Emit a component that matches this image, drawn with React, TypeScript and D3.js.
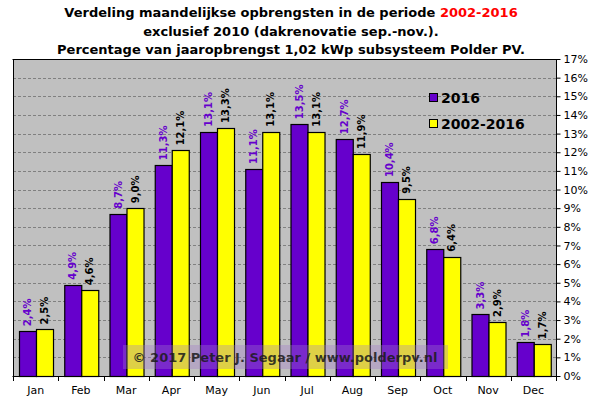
import { useRef, useEffect } from "react";
import * as d3 from "d3";

const months = ["Jan", "Feb", "Mar", "Apr", "May", "Jun", "Jul", "Aug", "Sep", "Oct", "Nov", "Dec"];
const series = ["2016", "2002-2016"];
const values2016 = [2.4, 4.9, 8.7, 11.3, 13.1, 11.1, 13.5, 12.7, 10.4, 6.8, 3.3, 1.8];
const valuesAll = [2.5, 4.6, 9.0, 12.1, 13.3, 13.1, 13.1, 11.9, 9.5, 6.4, 2.9, 1.7];
const yTicks = d3.range(0, 18);
const titleLines = [
  ["Verdeling maandelijkse opbrengsten in de periode ", "2002-2016"],
  ["exclusief 2010 (dakrenovatie sep.-nov.).", ""],
  ["Percentage van jaaropbrengst 1,02 kWp subsysteem Polder PV.", ""],
];

const colors = { "2016": "#6600CC", "2002-2016": "#FFFF00" };
const labelColors = { "2016": "#6600CC", "2002-2016": "#000000" };
const font = "Verdana, 'DejaVu Sans', sans-serif";

export default function App() {
  const svgRef = useRef(null);

  useEffect(() => {
    const W = 601, H = 399;
    const margin = { top: 59, right: 45, bottom: 23, left: 13 };
    const svg = d3.select(svgRef.current);
    svg.selectAll("*").remove();
    svg.attr("width", W).attr("height", H).style("font-family", font);

    svg.append("rect").attr("width", W).attr("height", H).attr("fill", "#fff");

    const x0 = d3.scaleBand().domain(months).range([margin.left, W - margin.right]).paddingInner(0);
    const x1 = d3.scaleBand().domain(series).range([0, x0.bandwidth()]).paddingInner(0).paddingOuter(0.33);
    const y = d3.scaleLinear().domain([0, 17]).range([H - margin.bottom, margin.top]);

    // title
    titleLines.forEach((ln, i) => {
      const t = svg.append("text")
        .attr("x", 291).attr("y", 17 + i * 18.5)
        .attr("text-anchor", "middle")
        .attr("font-size", 13).attr("font-weight", "bold").attr("fill", "#000");
      t.append("tspan").text(ln[0]);
      if (ln[1]) t.append("tspan").attr("fill", "#FF0000").text(ln[1]);
    });

    // plot area
    svg.append("rect")
      .attr("x", margin.left).attr("y", y(17))
      .attr("width", W - margin.right - margin.left).attr("height", y(0) - y(17))
      .attr("fill", "#C0C0C0");

    // grid
    svg.append("g").selectAll("line")
      .data(yTicks.filter((d) => d > 0 && d < 17))
      .join("line")
      .attr("x1", margin.left).attr("x2", W - margin.right)
      .attr("y1", (d) => Math.round(y(d)) + 0.5).attr("y2", (d) => Math.round(y(d)) + 0.5)
      .attr("stroke", "#808080").attr("stroke-dasharray", "3,2");

    // bars
    const data = months.map((m, i) => ({ m, vals: [values2016[i], valuesAll[i]] }));
    const groups = svg.append("g").selectAll("g").data(data).join("g")
      .attr("transform", (d) => `translate(${x0(d.m)},0)`);

    groups.selectAll("rect")
      .data((d) => series.map((s, j) => ({ s, v: d.vals[j] })))
      .join("rect")
      .attr("x", (d) => Math.round(x1(d.s)) + 0.5)
      .attr("y", (d) => Math.round(y(d.v)) + 0.5)
      .attr("width", x1.bandwidth())
      .attr("height", (d) => Math.round(y(0)) - Math.round(y(d.v)))
      .attr("fill", (d) => colors[d.s])
      .attr("stroke", "#000").attr("stroke-width", 1.2);

    groups.selectAll("text")
      .data((d) => series.map((s, j) => ({ s, v: d.vals[j] })))
      .join("text")
      .attr("transform", (d) => `translate(${x1(d.s) + x1.bandwidth() / 2 + 4},${y(d.v) - 5}) rotate(-90)`)
      .attr("font-size", 10).attr("font-weight", "bold")
      .attr("fill", (d) => labelColors[d.s])
      .text((d) => d.v.toFixed(1).replace(".", ",") + "%");

    // axes lines
    const ax = svg.append("g").attr("stroke", "#000").attr("fill", "none");
    ax.append("line").attr("x1", margin.left - 0.5).attr("x2", W - margin.right + 0.5)
      .attr("y1", y(0) + 0.5).attr("y2", y(0) + 0.5);
    ax.append("line").attr("x1", margin.left - 0.5).attr("x2", W - margin.right + 0.5)
      .attr("y1", y(17) + 0.5).attr("y2", y(17) + 0.5);
    ax.append("line").attr("x1", margin.left + 0.5).attr("x2", margin.left + 0.5)
      .attr("y1", y(17)).attr("y2", y(0) + 5);
    ax.append("line").attr("x1", W - margin.right + 0.5).attr("x2", W - margin.right + 0.5)
      .attr("y1", y(17)).attr("y2", y(0) + 5);

    // x ticks at band boundaries
    ax.selectAll(".xt").data(months.slice(1)).join("line")
      .attr("x1", (d) => Math.round(x0(d)) + 0.5).attr("x2", (d) => Math.round(x0(d)) + 0.5)
      .attr("y1", y(0)).attr("y2", y(0) + 5);

    svg.append("g").selectAll("text").data(months).join("text")
      .attr("x", (d) => x0(d) + x0.bandwidth() / 2)
      .attr("y", y(0) + 18)
      .attr("text-anchor", "middle").attr("font-size", 11).attr("fill", "#000")
      .text((d) => d);

    // right axis
    const rAxis = svg.append("g")
      .attr("transform", `translate(${W - margin.right + 0.5},0)`)
      .call(d3.axisRight(y).tickValues(yTicks).tickSize(4).tickFormat((d) => `${d}%`));
    rAxis.select(".domain").remove();
    rAxis.selectAll("text").attr("font-size", 11).attr("font-family", font).attr("fill", "#000").attr("x", 7);
    rAxis.selectAll(".tick line").attr("stroke", "#000");

    // legend
    const lg = svg.append("g").attr("transform", "translate(429,93)");
    series.forEach((s, i) => {
      const row = lg.append("g").attr("transform", `translate(0,${i * 26})`);
      row.append("rect").attr("x", 0.5).attr("y", 0.5).attr("width", 8).attr("height", 8)
        .attr("fill", colors[s]).attr("stroke", "#000");
      row.append("text").attr("x", 12).attr("y", 9.5)
        .attr("font-size", 14).attr("font-weight", "bold").attr("fill", "#000")
        .text(s);
    });

    // watermark
    svg.append("rect").attr("x", 123).attr("y", 345).attr("width", 325).attr("height", 24)
      .attr("fill", "rgb(160,120,200)").attr("fill-opacity", 0.35);
    svg.append("text").attr("x", 285).attr("y", 362)
      .attr("text-anchor", "middle").attr("font-size", 13).attr("font-weight", "bold")
      .attr("fill", "#1a1a1a").attr("fill-opacity", 0.85)
      .text("© 2017 Peter J. Segaar / www.polderpv.nl");
  }, []);

  return (
    <div style={{ position: "absolute", left: 0, top: 0 }}>
      <svg ref={svgRef}></svg>
    </div>
  );
}
